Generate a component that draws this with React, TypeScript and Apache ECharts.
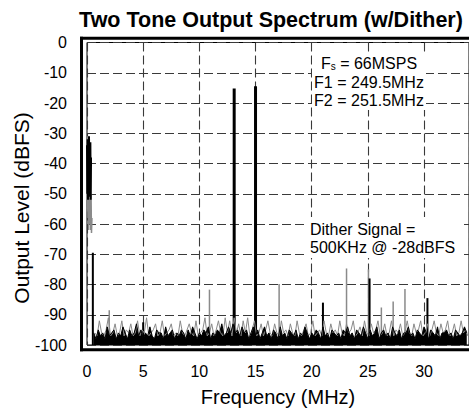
import React, { useEffect, useRef } from "react";
import * as echarts from "echarts";

// ---------- data ----------
const xTicks = [0, 5, 10, 15, 20, 25, 30];
const yTicks = [0, -10, -20, -30, -40, -50, -60, -70, -80, -90, -100];

// noise floor (black trace), 0.6 MHz .. 33.8 MHz every 0.2 MHz
const noiseStart = 0.6;
const noiseStep = 0.2;
const blackNoise = [
  -96, -98, -95, -97, -96, -98, -94, -97, -96, -95,
  -98, -96, -97, -94, -96, -98, -95, -97, -96, -93,
  -97, -95, -98, -96, -97, -94, -97, -98, -95, -96,
  -96, -98, -94, -97, -96, -95, -98, -96, -97, -95,
  -96, -98, -95, -97, -94, -96, -98, -96, -97, -95,
  -96, -94, -98, -96, -97, -95, -96, -93, -97, -96,
  -94, -96, -93, -96, -95, -97, -94, -96, -95, -98,
  -96, -94, -97, -95, -98, -96, -94, -97, -96, -98,
  -95, -96, -98, -94, -97, -96, -98, -95, -96, -97,
  -95, -98, -96, -97, -94, -96, -98, -96, -97, -95,
  -96, -98, -94, -97, -96, -98, -95, -96, -97, -96,
  -98, -95, -96, -94, -97, -96, -98, -95, -96, -97,
  -94, -96, -98, -95, -97, -96, -94, -98, -96, -95,
  -97, -96, -98, -94, -96, -97, -95, -98, -96, -96,
  -94, -97, -96, -98, -95, -96, -97, -94, -96, -98,
  -95, -96, -97, -94, -98, -96, -96, -95, -97, -96,
  -98, -95, -96, -97, -96, -94, -96,
];
// gray trace, 0.7 MHz .. 33.9 MHz every 0.2 MHz
const grayStart = 0.7;
const grayNoise = [
  -96, -97, -92, -96, -97, -95, -91, -97, -96, -93,
  -97, -96, -92, -97, -95, -96, -93, -97, -96, -92,
  -97, -95, -96, -91, -97, -96, -95, -93, -97, -96,
  -92, -97, -96, -95, -93, -97, -96, -97, -92, -96,
  -97, -95, -93, -96, -97, -92, -97, -96, -95, -91,
  -97, -96, -93, -97, -95, -92, -96, -97, -91, -96,
  -92, -97, -91, -96, -93, -97, -92, -96, -91, -97,
  -95, -92, -97, -96, -93, -97, -95, -92, -96, -97,
  -93, -96, -97, -92, -96, -95, -97, -93, -96, -97,
  -92, -96, -97, -95, -93, -97, -96, -92, -97, -96,
  -95, -97, -92, -96, -97, -93, -96, -95, -97, -92,
  -96, -97, -93, -96, -95, -92, -97, -96, -94, -97,
  -92, -96, -97, -93, -96, -95, -92, -97, -96, -93,
  -97, -96, -92, -97, -95, -96, -93, -97, -96, -92,
  -96, -97, -93, -96, -95, -92, -97, -96, -93, -97,
  -95, -92, -96, -97, -93, -96, -95, -92, -97, -96,
  -93, -97, -96, -92, -96, -95, -97,
];

// dither signal region near DC
const ditherBlackFreq = [0.0, 0.03, 0.06, 0.09, 0.12, 0.15, 0.18, 0.21, 0.24, 0.27, 0.3, 0.33, 0.36];
const ditherBlackLevel = [-34, -50, -32, -52, -33, -49, -31, -51, -35, -48, -33, -52, -38];
const ditherGrayFreq = [0.0, 0.03, 0.06, 0.09, 0.12, 0.15, 0.18, 0.21, 0.24, 0.27, 0.3, 0.33, 0.36, 0.4, 0.44];
const ditherGrayLevel = [-36, -55, -31, -58, -40, -62, -33, -57, -45, -60, -38, -62, -50, -63, -58];

// main tones
const toneFreq = [13.1, 15.0];
const toneLevel = [-15.2, -14.5];
// black spurs
const blackSpurFreq = [0.52, 5.0, 21.0, 25.15, 30.3];
const blackSpurLevel = [-69.5, -92.5, -86, -78, -84.5];
// gray spurs
const graySpurFreq = [1.98, 10.9, 17.1, 23.1, 25.05, 26.2, 27.25, 28.3];
const graySpurLevel = [-88.5, -81.7, -79.8, -74.7, -75, -87.6, -85.6, -81.5];

// ---------- helpers ----------
const FONT = "'Liberation Sans', Arial, Helvetica, sans-serif";

function spurSeries(freq: number[], level: number[], color: string, width: number) {
  return {
    type: "custom",
    data: freq.map((f, i) => [f, level[i]]),
    encode: { x: 0, y: 1 },
    renderItem: (params: any, api: any) => {
      const f = api.value(0);
      const v = api.value(1);
      const p0 = api.coord([f, -100]);
      const p1 = api.coord([f, v]);
      return {
        type: "line",
        shape: { x1: p0[0], y1: p0[1], x2: p1[0], y2: p1[1] },
        style: { stroke: color, lineWidth: width },
      };
    },
    silent: true,
  };
}

function bar(x: number, y: number, w: number, h: number) {
  return {
    type: "rect",
    z: 20,
    shape: { x, y, width: w, height: h },
    style: { fill: "#000" },
    silent: true,
  };
}

export default function App() {
  const ref = useRef<HTMLDivElement>(null);

  useEffect(() => {
    if (!ref.current) return;
    const chart = echarts.init(ref.current, undefined, { renderer: "svg" });

    const gridLeft = 87;
    const gridTop = 42.5;
    const gridBottomPx = 345;

    const blackData = blackNoise.map((v, i) => [noiseStart + i * noiseStep, v]);
    const grayData = grayNoise.map((v, i) => [grayStart + i * noiseStep, v]);

    const option: any = {
      animation: false,
      backgroundColor: "#fff",
      grid: {
        left: gridLeft,
        top: gridTop,
        right: -11.4,
        bottom: 408 - gridBottomPx,
        show: true,
        borderColor: "#000",
        borderWidth: 1,
        backgroundColor: "transparent",
        containLabel: false,
      },
      xAxis: {
        type: "value",
        min: 0,
        max: 34,
        interval: 5,
        axisLine: { show: false },
        axisTick: { show: false },
        axisLabel: {
          margin: 18,
          fontSize: 16,
          fontFamily: FONT,
          color: "#000",
          showMaxLabel: false,
          formatter: (v: number) => (xTicks.indexOf(v) >= 0 ? String(v) : ""),
        },
        splitLine: {
          show: true,
          lineStyle: { color: "#3a3a3a", width: 1.1, type: [9, 4] },
        },
      },
      yAxis: {
        type: "value",
        min: -100,
        max: 0,
        interval: 10,
        axisLine: { show: false },
        axisTick: { show: false },
        axisLabel: {
          margin: 20,
          fontSize: 16,
          fontFamily: FONT,
          color: "#000",
          formatter: (v: number) => (yTicks.indexOf(v) >= 0 ? String(v) : ""),
        },
        splitLine: {
          show: true,
          lineStyle: { color: "#3a3a3a", width: 1.1, type: [9, 4] },
        },
      },
      graphic: [
        bar(80, 36.8, 400, 3),
        bar(80, 348.3, 400, 3),
        bar(80, 36.8, 3, 314.5),
        {
          type: "text",
          z: 20,
          x: 271,
          y: 20,
          style: {
            text: "Two Tone Output Spectrum (w/Dither)",
            font: `bold 21.5px ${FONT}`,
            fill: "#000",
            textAlign: "center",
            textVerticalAlign: "middle",
          },
        },
        {
          type: "text",
          z: 20,
          x: 278,
          y: 397,
          style: {
            text: "Frequency (MHz)",
            font: `20px ${FONT}`,
            fill: "#000",
            textAlign: "center",
            textVerticalAlign: "middle",
          },
        },
        {
          type: "text",
          z: 20,
          x: 21,
          y: 208,
          rotation: Math.PI / 2,
          style: {
            text: "Output Level (dBFS)",
            font: `21px ${FONT}`,
            fill: "#000",
            textAlign: "center",
            textVerticalAlign: "middle",
          },
        },
        {
          type: "rect",
          z: 15,
          shape: { x: 312, y: 53, width: 114, height: 57 },
          style: { fill: "#fff" },
          silent: true,
        },
        {
          type: "text",
          z: 20,
          x: 369,
          y: 63,
          style: {
            rich: {
              a: { font: `16px ${FONT}`, fill: "#000" },
              s: { font: `10px ${FONT}`, fill: "#000", verticalAlign: "bottom", padding: [6, 0, 0, 0] },
            },
            text: "{a|F}{s|s}{a| = 66MSPS}",
            textAlign: "center",
            textVerticalAlign: "middle",
          },
        },
        {
          type: "text",
          z: 20,
          x: 369,
          y: 82.5,
          style: {
            text: "F1 = 249.5MHz",
            font: `16px ${FONT}`,
            fill: "#000",
            textAlign: "center",
            textVerticalAlign: "middle",
          },
        },
        {
          type: "text",
          z: 20,
          x: 369,
          y: 100.5,
          style: {
            text: "F2 = 251.5MHz",
            font: `16px ${FONT}`,
            fill: "#000",
            textAlign: "center",
            textVerticalAlign: "middle",
          },
        },
        {
          type: "rect",
          z: 15,
          shape: { x: 306, y: 217, width: 155, height: 41 },
          style: { fill: "#fff" },
          silent: true,
        },
        {
          type: "text",
          z: 20,
          x: 310,
          y: 229.5,
          style: {
            text: "Dither Signal =",
            font: `16px ${FONT}`,
            fill: "#000",
            textAlign: "left",
            textVerticalAlign: "middle",
          },
        },
        {
          type: "text",
          z: 20,
          x: 310,
          y: 247.5,
          style: {
            text: "500KHz @ -28dBFS",
            font: `16px ${FONT}`,
            fill: "#000",
            textAlign: "left",
            textVerticalAlign: "middle",
          },
        },
      ],
      series: [
        {
          type: "line",
          data: grayData,
          showSymbol: false,
          symbol: "none",
          lineStyle: { color: "#8a8a8a", width: 1 },
          silent: true,
        },
        {
          type: "line",
          data: ditherGrayFreq.map((f, i) => [f, ditherGrayLevel[i]]),
          showSymbol: false,
          symbol: "none",
          lineStyle: { color: "#8a8a8a", width: 1.5 },
          silent: true,
        },
        spurSeries(graySpurFreq, graySpurLevel, "#8a8a8a", 1.5),
        {
          type: "line",
          data: blackData,
          showSymbol: false,
          symbol: "none",
          lineStyle: { color: "#000", width: 1 },
          areaStyle: { color: "#000", opacity: 1, origin: "start" },
          silent: true,
        },
        {
          type: "line",
          data: ditherBlackFreq.map((f, i) => [f, ditherBlackLevel[i]]),
          showSymbol: false,
          symbol: "none",
          lineStyle: { color: "#000", width: 2 },
          silent: true,
        },
        spurSeries(blackSpurFreq, blackSpurLevel, "#000", 2),
        spurSeries(toneFreq, toneLevel, "#000", 3),
      ],
    };

    chart.setOption(option);
    return () => chart.dispose();
  }, []);

  return (
    <div
      ref={ref}
      style={{ position: "absolute", left: 0, top: 0, width: 469, height: 408 }}
    />
  );
}
